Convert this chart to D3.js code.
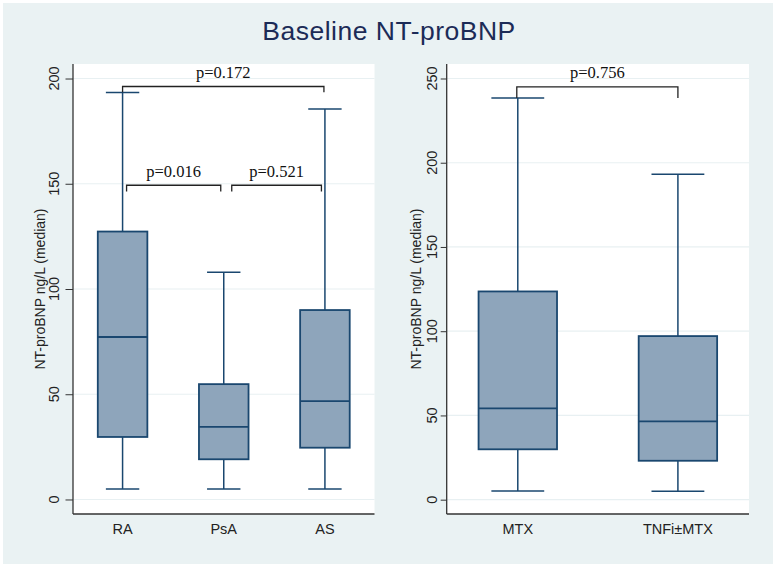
<!DOCTYPE html>
<html>
<head>
<meta charset="utf-8">
<script src="https://cdn.jsdelivr.net/npm/d3@7"></script>
<style>
  html, body { margin: 0; padding: 0; background: #ffffff; }
  svg { display: block; }
</style>
</head>
<body>
<svg id="chart" width="777" height="568"></svg>
<script>
// ---------- DATA ----------
const title = "Baseline NT-proBNP";
const yLabel = "NT-proBNP ng/L (median)";

// Left panel: disease groups
const groupsL = ["RA", "PsA", "AS"];
const lowL    = [5, 5, 5];
const q1L     = [29.7, 19.1, 24.6];
const medL    = [77.2, 34.5, 46.7];
const q3L     = [127.3, 54.8, 90];
const highL   = [193.3, 108, 185.5];
const ticksL  = [0, 50, 100, 150, 200];

// Right panel: treatment groups
const groupsR = ["MTX", "TNFi\u00B1MTX"];
const lowR    = [5.2, 5];
const q1R     = [29.9, 23.1];
const medR    = [54.2, 46.5];
const q3R     = [123.6, 97.1];
const highR   = [238.4, 193.2];
const ticksR  = [0, 50, 100, 150, 200, 250];

// p-value brackets
const bracketFromL  = ["RA", "RA", "PsA"];
const bracketToL    = ["AS", "PsA", "AS"];
const bracketLevelL = [196.2, 149.3, 149.3];
const bracketDropL  = [193.5, 146.3, 146.3];
const bracketTextL  = ["p=0.172", "p=0.016", "p=0.521"];

const bracketFromR  = ["MTX"];
const bracketToR    = ["TNFi\u00B1MTX"];
const bracketLevelR = [245.0];
const bracketDropR  = [238.4];
const bracketTextR  = ["p=0.756"];

// ---------- STYLE ----------
const BG = "#eaf2f3";
const NAVY = "#1a476f";
const FILL = "#8ea5bb";
const GRID = "#e8f0f2";
const SANS = "'Liberation Sans', Arial, Helvetica, sans-serif";
const SERIF = "'Liberation Serif', 'Times New Roman', serif";

const svg = d3.select("#chart");
svg.append("rect").attr("x", 3).attr("y", 3).attr("width", 770).attr("height", 561).attr("fill", BG);

svg.append("text")
  .attr("x", 389).attr("y", 40)
  .attr("text-anchor", "middle")
  .attr("font-family", SANS).attr("font-size", 26.5)
  .attr("letter-spacing", 0.5)
  .attr("fill", "#1c2b57")
  .text(title);

function panel(cfg) {
  const g = svg.append("g");
  const x = d3.scalePoint().domain(cfg.groups).range([cfg.x0, cfg.x1]).padding(cfg.pad);
  const y = d3.scaleLinear().domain([cfg.yMin, cfg.yMax]).range([cfg.y1, cfg.y0]);
  const step = x.step();
  const boxW = step * 0.49;
  const capW = step * 0.33;

  g.append("rect").attr("x", cfg.x0).attr("y", cfg.y0)
    .attr("width", cfg.x1 - cfg.x0).attr("height", cfg.y1 - cfg.y0).attr("fill", "#ffffff");

  g.selectAll(".grid").data(cfg.ticks).join("line")
    .attr("x1", cfg.x0).attr("x2", cfg.x1)
    .attr("y1", d => y(d)).attr("y2", d => y(d))
    .attr("stroke", GRID).attr("stroke-width", 1.2);

  const yAxis = d3.axisLeft(y).tickValues(cfg.ticks).tickSize(cfg.tickLen).tickFormat("");
  const ya = g.append("g").attr("transform", `translate(${cfg.x0},0)`).call(yAxis);
  ya.select(".domain").remove();
  ya.selectAll(".tick line").attr("stroke", "#333").attr("stroke-width", 1);
  g.append("line").attr("x1", cfg.x0).attr("x2", cfg.x0).attr("y1", cfg.y0).attr("y2", cfg.y1)
    .attr("stroke", "#333").attr("stroke-width", 1.3);
  g.append("line").attr("x1", cfg.x0).attr("x2", cfg.x1).attr("y1", cfg.y1).attr("y2", cfg.y1)
    .attr("stroke", "#333").attr("stroke-width", 1.3);

  g.selectAll(".ylab").data(cfg.ticks).join("text")
    .attr("transform", d => `translate(${cfg.labX},${y(d)}) rotate(-90)`)
    .attr("text-anchor", "middle")
    .attr("font-family", SANS).attr("font-size", 14.5).attr("fill", "#222")
    .text(d => d);

  g.append("text")
    .attr("transform", `translate(${cfg.titleX},${(cfg.y0 + cfg.y1) / 2}) rotate(-90)`)
    .attr("text-anchor", "middle")
    .attr("font-family", SANS).attr("font-size", 14).attr("fill", "#222")
    .text(yLabel);

  g.selectAll(".xlab").data(cfg.groups).join("text")
    .attr("x", d => x(d)).attr("y", 533.5)
    .attr("text-anchor", "middle")
    .attr("font-family", SANS).attr("font-size", 14.5).attr("fill", "#222")
    .text(d => d);

  const idx = d3.range(cfg.groups.length);
  g.selectAll(".wu").data(idx).join("line")
    .attr("x1", i => x(cfg.groups[i])).attr("x2", i => x(cfg.groups[i]))
    .attr("y1", i => y(cfg.q3[i])).attr("y2", i => y(cfg.high[i]))
    .attr("stroke", NAVY).attr("stroke-width", 1.5);
  g.selectAll(".wl").data(idx).join("line")
    .attr("x1", i => x(cfg.groups[i])).attr("x2", i => x(cfg.groups[i]))
    .attr("y1", i => y(cfg.q1[i])).attr("y2", i => y(cfg.low[i]))
    .attr("stroke", NAVY).attr("stroke-width", 1.5);
  [cfg.high, cfg.low].forEach(arr => {
    g.selectAll(null).data(idx).join("line")
      .attr("x1", i => x(cfg.groups[i]) - capW / 2).attr("x2", i => x(cfg.groups[i]) + capW / 2)
      .attr("y1", i => y(arr[i])).attr("y2", i => y(arr[i]))
      .attr("stroke", NAVY).attr("stroke-width", 1.5);
  });
  g.selectAll(".box").data(idx).join("rect")
    .attr("x", i => x(cfg.groups[i]) - boxW / 2).attr("width", boxW)
    .attr("y", i => y(cfg.q3[i])).attr("height", i => y(cfg.q1[i]) - y(cfg.q3[i]))
    .attr("fill", FILL).attr("stroke", NAVY).attr("stroke-width", 1.8);
  g.selectAll(".med").data(idx).join("line")
    .attr("x1", i => x(cfg.groups[i]) - boxW / 2).attr("x2", i => x(cfg.groups[i]) + boxW / 2)
    .attr("y1", i => y(cfg.med[i])).attr("y2", i => y(cfg.med[i]))
    .attr("stroke", NAVY).attr("stroke-width", 1.8);

  const bi = d3.range(cfg.bFrom.length);
  bi.forEach(i => {
    const xa = x(cfg.bFrom[i]) + cfg.bInsetL[i];
    const xb = x(cfg.bTo[i]) - cfg.bInsetR[i];
    const yl = y(cfg.bLevel[i]);
    const yd = y(cfg.bDrop[i]);
    g.append("path")
      .attr("d", `M${xa},${yd}V${yl}H${xb}V${yd}`)
      .attr("fill", "none").attr("stroke", "#222").attr("stroke-width", 1.3);
    g.append("text")
      .attr("x", (xa + xb) / 2).attr("y", yl - 8.5)
      .attr("text-anchor", "middle")
      .attr("font-family", SERIF).attr("font-size", 16.5).attr("fill", "#111")
      .text(cfg.bText[i]);
  });
}

panel({
  groups: groupsL, low: lowL, q1: q1L, med: medL, q3: q3L, high: highL, ticks: ticksL,
  x0: 73, x1: 374.5, y0: 64, y1: 514, pad: 0.49,
  yMin: -6.9, yMax: 206.9,
  tickLen: 7.5, labX: 59, titleX: 45,
  bFrom: bracketFromL, bTo: bracketToL, bLevel: bracketLevelL, bDrop: bracketDropL, bText: bracketTextL,
  bInsetL: [0, 4, 8], bInsetR: [1, 3, 3.5]
});
panel({
  groups: groupsR, low: lowR, q1: q1R, med: medR, q3: q3R, high: highR, ticks: ticksR,
  x0: 446.7, x1: 749, y0: 64, y1: 514, pad: 0.444,
  yMin: -8.5, yMax: 258.6,
  tickLen: 6, labX: 437, titleX: 421,
  bFrom: bracketFromR, bTo: bracketToR, bLevel: bracketLevelR, bDrop: bracketDropR, bText: bracketTextR,
  bInsetL: [-1], bInsetR: [0]
});
</script>
</body>
</html>
